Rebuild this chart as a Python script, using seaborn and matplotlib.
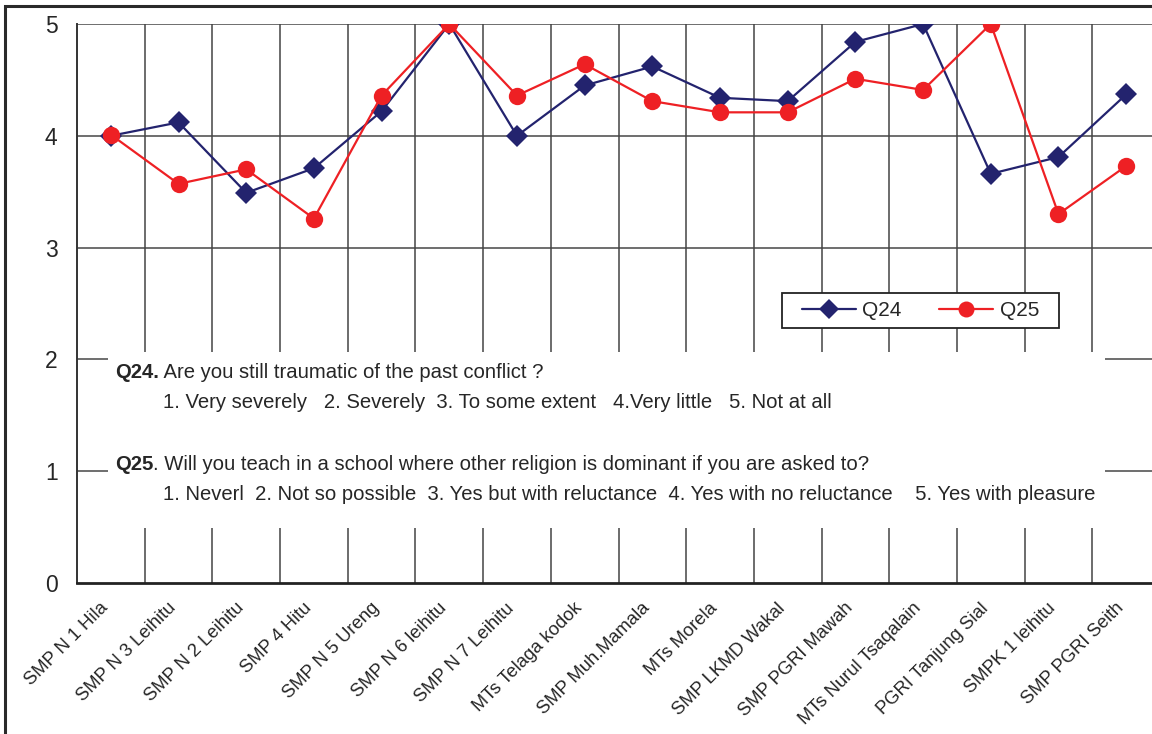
import numpy as np
import pandas as pd
import matplotlib
matplotlib.use('Agg')
import matplotlib.pyplot as plt
import matplotlib.transforms as mtrans
from matplotlib.lines import Line2D
from matplotlib.patches import Rectangle
import seaborn as sns

schools = ['SMP N 1 Hila', 'SMP N 3 Leihitu', 'SMP N 2 Leihitu', 'SMP 4 Hitu',
           'SMP N 5 Ureng', 'SMP N 6 leihitu', 'SMP N 7 Leihitu', 'MTs Telaga kodok',
           'SMP Muh.Mamala', 'MTs Morela', 'SMP LKMD Wakal', 'SMP PGRI Mawah',
           'MTs Nurul Tsaqalain', 'PGRI Tanjung Sial', 'SMPK 1 leihitu', 'SMP PGRI Seith']
q24 = [4.0, 4.12, 3.49, 3.71, 4.22, 5.0, 4.0, 4.45,
       4.62, 4.34, 4.31, 4.84, 5.0, 3.66, 3.81, 4.37]
q25 = [4.01, 3.57, 3.70, 3.26, 4.36, 5.0, 4.36, 4.64,
       4.31, 4.21, 4.21, 4.51, 4.41, 5.0, 3.30, 3.73]
y_ticks = [0, 1, 2, 3, 4, 5]

q24_text = 'Are you still traumatic of the past conflict ?'
q24_opts = '1. Very severely   2. Severely  3. To some extent   4.Very little   5. Not at all'
q25_text = '. Will you teach in a school where other religion is dominant if you are asked to?'
q25_opts = ('1. Neverl  2. Not so possible  3. Yes but with reluctance  '
            '4. Yes with no reluctance    5. Yes with pleasure')

navy = '#23236e'
red = '#ee2024'
ink = '#262626'

sns.set_style('white')
plt.rcParams['font.family'] = ['Liberation Sans', 'DejaVu Sans']

fig = plt.figure(figsize=(11.52, 7.34), dpi=100)
# axes runs a little past the right edge, like the cropped original
ax = fig.add_axes([77 / 1152, 151 / 734, 1083 / 1152, 559 / 734])

x = np.arange(len(schools))
df = pd.DataFrame({'pos': np.concatenate([x, x]),
                   'score': q24 + q25,
                   'question': ['Q24'] * len(x) + ['Q25'] * len(x)})

sns.lineplot(data=df, x='pos', y='score', hue='question', style='question',
             palette={'Q24': navy, 'Q25': red}, markers={'Q24': 'D', 'Q25': 'o'},
             dashes=False, sort=False, linewidth=1.6, markeredgewidth=0,
             legend=False, ax=ax, zorder=5)
for line in ax.lines:
    if line.get_marker() == 'D':
        line.set_markersize(11)
    else:
        line.set_markersize(12.5)

ax.set_xlim(-0.5, len(schools) - 0.5)
ax.set_ylim(0, 5)
ax.set_yticks(y_ticks)
ax.set_xticks(x)
ax.set_xticklabels(schools, rotation=45, ha='right', rotation_mode='anchor', fontsize=13.2)
ax.set_xlabel('')
ax.set_ylabel('')
ax.tick_params(axis='y', length=0, pad=14, labelsize=16.5, labelcolor=ink)
ax.tick_params(axis='x', length=0, pad=12, labelcolor=ink)
offset = mtrans.ScaledTranslation(-8 / 72, 0, fig.dpi_scale_trans)
for lbl in ax.get_xticklabels():
    lbl.set_transform(lbl.get_transform() + offset)

# grid: horizontal at the ticks, vertical between categories
for yv in y_ticks[1:]:
    ax.axhline(yv, color='#555555', lw=1.2, zorder=1)
for xv in x[:-1] + 0.5:
    ax.axvline(xv, color='#444444', lw=1.1, zorder=1)

for side in ['top', 'right']:
    ax.spines[side].set_visible(False)
ax.spines['left'].set_color('#333333')
ax.spines['left'].set_linewidth(1.4)
ax.spines['bottom'].set_color('#222222')
ax.spines['bottom'].set_linewidth(2)

# white box with the question texts
ax.add_patch(Rectangle((31 / 1083, 55 / 559), 997 / 1083, 176 / 559,
                       transform=ax.transAxes, facecolor='white', edgecolor='none', zorder=3))

fs = 14.6

def bold_line(xf, yf, head, rest):
    t = ax.text(xf, yf, head, transform=ax.transAxes, fontsize=fs, fontweight='bold',
                color=ink, va='center', ha='left', zorder=4)
    ax.annotate(rest, xy=(1, 0), xycoords=t, va='bottom', ha='left', fontsize=fs,
                color=ink, zorder=4)

bold_line(38 / 1083, 211 / 559, 'Q24.', ' ' + q24_text)
ax.text(86 / 1083, 181 / 559, q24_opts, transform=ax.transAxes, fontsize=fs,
        color=ink, va='center', ha='left', zorder=4)
bold_line(38 / 1083, 118 / 559, 'Q25', q25_text)
ax.text(86 / 1083, 88 / 559, q25_opts, transform=ax.transAxes, fontsize=fs,
        color=ink, va='center', ha='left', zorder=4)

# legend: plain box drawn separately, entries centred inside it
ax.add_patch(Rectangle((705 / 1083, 255 / 559), 277 / 1083, 35 / 559, transform=ax.transAxes,
                       facecolor='white', edgecolor='#222222', lw=1.3, zorder=6))
handles = [Line2D([], [], color=navy, marker='D', markersize=10, lw=1.6, markeredgewidth=0),
           Line2D([], [], color=red, marker='o', markersize=11.5, lw=1.6, markeredgewidth=0)]
leg = ax.legend(handles, ['Q24', 'Q25'], ncol=2, loc='center',
                bbox_to_anchor=(843.5 / 1083, 272.5 / 559),
                fontsize=15, frameon=False, handlelength=2.6,
                columnspacing=1.8, handletextpad=0.3, borderpad=0.2)
for t in leg.get_texts():
    t.set_color(ink)
leg.set_zorder(7)

# outer frame of the original picture
fig.patches.append(Rectangle((5 / 1152, -0.1), 1.2, 1.1 - 6 / 734, transform=fig.transFigure,
                             fill=False, edgecolor='#2a2a2a', lw=2.2, zorder=0))

fig.savefig('out.png', dpi=100)
